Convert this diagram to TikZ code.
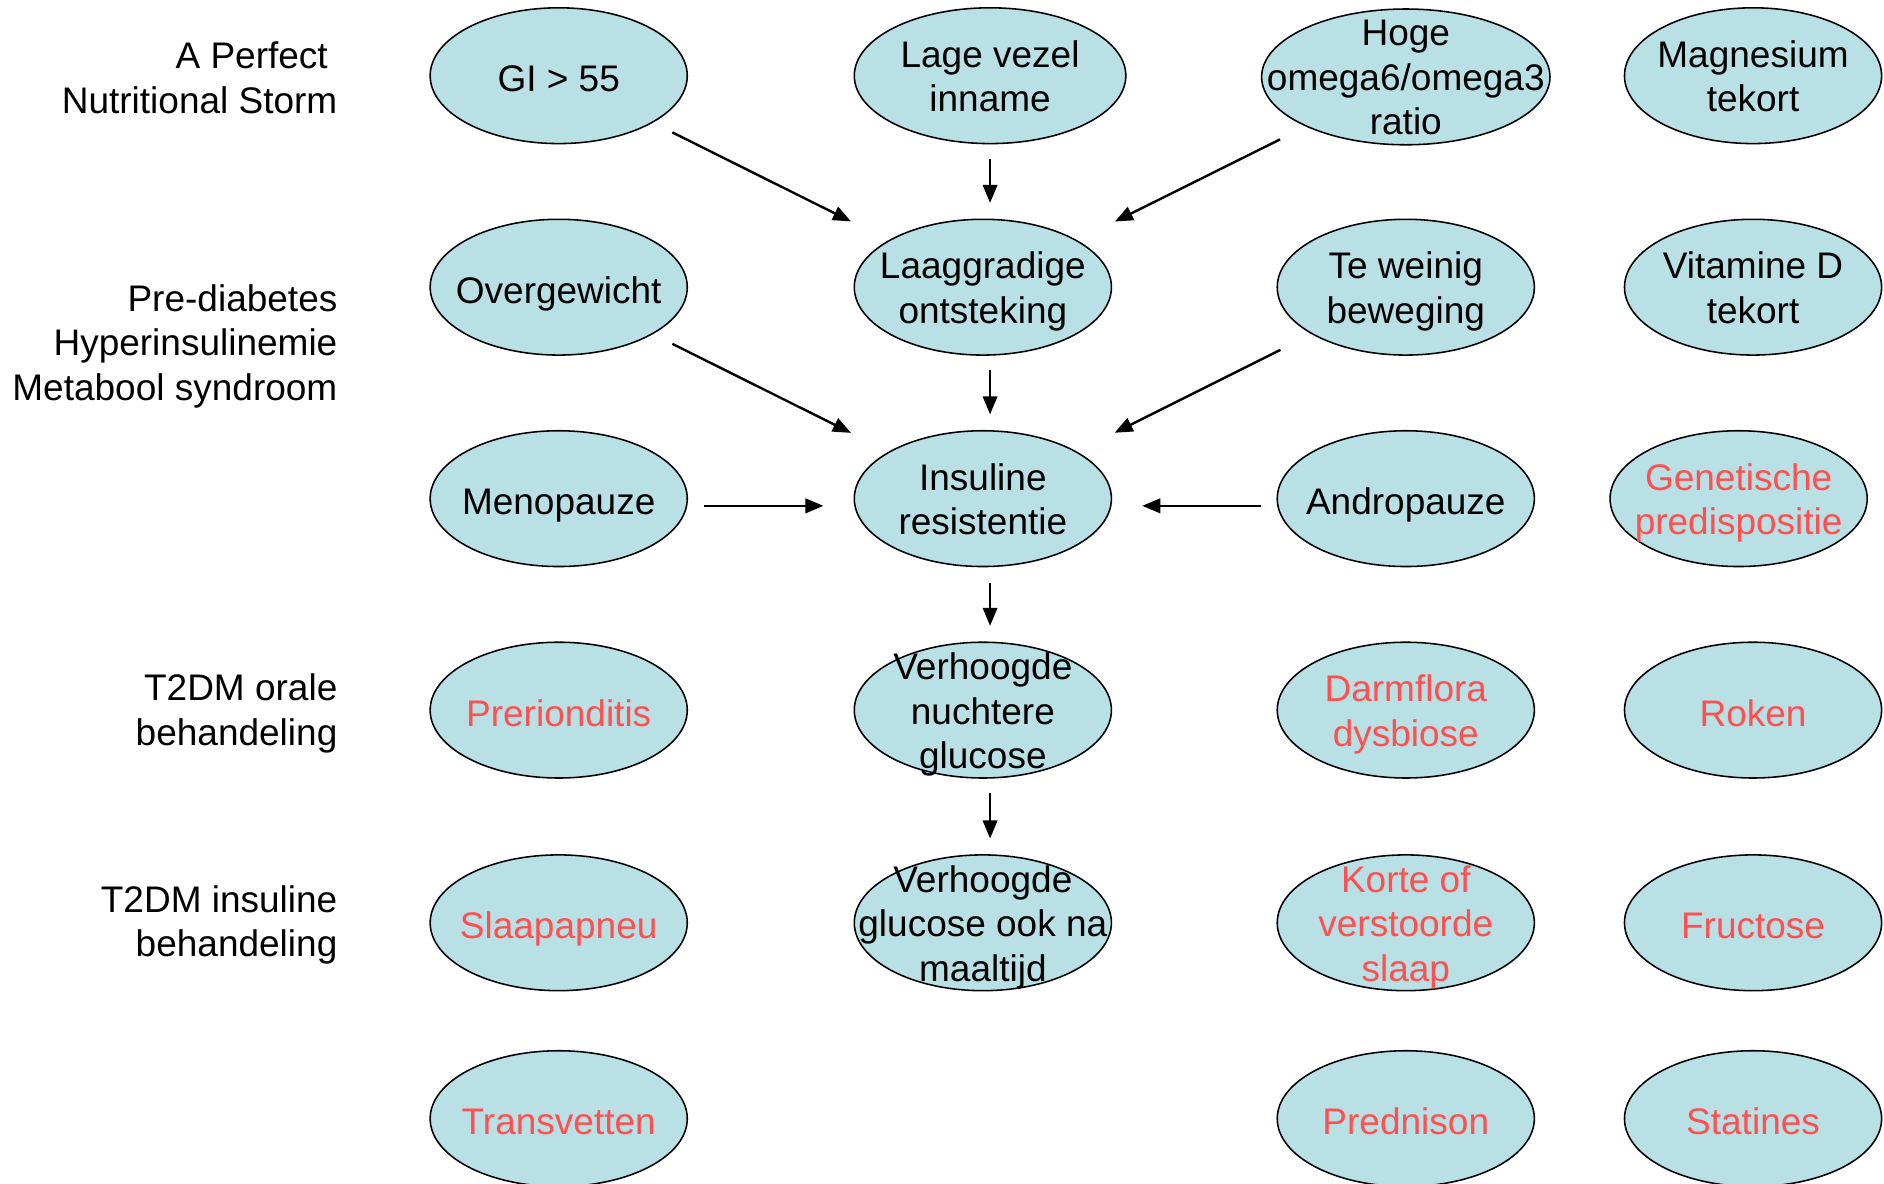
\documentclass[tikz,border=0pt]{standalone}
\usepackage{fontspec}
\setmainfont{Liberation Sans}
\usetikzlibrary{shapes.geometric,arrows.meta,calc}
\definecolor{efill}{RGB}{185,224,228}
\definecolor{ered}{RGB}{255,80,80}
\begin{document}
\begin{tikzpicture}[x=1pt,y=-1pt,
  ell/.style={ellipse,draw=black,line width=1.3pt,fill=efill,minimum width=214pt,minimum height=113pt,inner sep=0pt},
  txt/.style={align=center,inner sep=0pt,yshift=-6pt,font=\fontsize{30.8}{37}\selectfont,
    execute at begin node=\strut,execute at end node=\strut},
  redtxt/.style={txt,text=ered},
  lbl/.style={anchor=east,align=right,inner sep=0pt,yshift=-4.5pt,font=\fontsize{30.8}{37}\selectfont,
    execute at begin node=\strut,execute at end node=\strut},
  arr/.style={-{Triangle[length=15pt,width=12pt]},line width=2pt}]
\useasboundingbox (0,0) rectangle (1568,985.4);
% row 1
\node[ell,label={[txt]center:GI > 55}] (gi) at (465,63) {};
\node[ell,minimum width=226pt,label={[txt]center:Lage vezel\\inname}] (lage) at (824,63) {};
\node[ell,minimum width=240pt,label={[txt]center:Hoge\\omega6/omega3\\ratio}] (hoge) at (1170,64) {};
\node[ell,label={[txt]center:Magnesium\\tekort}] (magn) at (1459,63) {};
% row 2
\node[ell,label={[txt]center:Overgewicht}] (over) at (465,239) {};
\node[ell,label={[txt]center:Laaggradige\\ontsteking}] (lag) at (818,239) {};
\node[ell,label={[txt]center:Te weinig\\beweging}] (tew) at (1170,239) {};
\node[ell,label={[txt]center:Vitamine D\\tekort}] (vitd) at (1459,239) {};
% row 3
\node[ell,label={[txt]center:Menopauze}] (meno) at (465,415) {};
\node[ell,label={[txt]center:Insuline\\resistentie}] (ins) at (818,415) {};
\node[ell,label={[txt]center:Andropauze}] (andro) at (1170,415) {};
\node[ell,label={[redtxt]center:Genetische\\predispositie}] (gen) at (1447,415) {};
% row 4
\node[ell,label={[redtxt]center:Prerionditis}] (prer) at (465,591) {};
\node[ell,label={[txt]center:Verhoogde\\nuchtere\\glucose}] (vnuch) at (818,591) {};
\node[ell,label={[redtxt]center:Darmflora\\dysbiose}] (darm) at (1170,591) {};
\node[ell,label={[redtxt]center:Roken}] (roken) at (1459,591) {};
% row 5
\node[ell,label={[redtxt]center:Slaapapneu}] (slaap) at (465,768) {};
\node[ell,label={[txt]center:Verhoogde\\glucose ook na\\maaltijd}] (vglu) at (818,768) {};
\node[ell,label={[redtxt]center:Korte of\\verstoorde\\slaap}] (korte) at (1170,768) {};
\node[ell,label={[redtxt]center:Fructose}] (fruc) at (1459,768) {};
% row 6
\node[ell,label={[redtxt]center:Transvetten}] (trans) at (465,931) {};
\node[ell,label={[redtxt]center:Prednison}] (pred) at (1170,931) {};
\node[ell,label={[redtxt]center:Statines}] (stat) at (1459,931) {};
% left labels
\node[lbl] (l1) at (281,65.5) {A Perfect\kern8pt\\Nutritional Storm};
\node[lbl] (l2) at (281,286) {Pre-diabetes\\Hyperinsulinemie\\Metabool syndroom};
\node[lbl] (l3) at (281,591.5) {T2DM orale\\behandeling};
\node[lbl] (l4) at (281,767.5) {T2DM insuline\\behandeling};
% arrows
\draw[arr,shorten <=18pt,shorten >=35pt] (gi) -- (lag);
\draw[arr] ([yshift=-12pt]lage.south) -- ([yshift=13pt]lage.south |- lag.north);
\draw[arr,shorten <=24pt,shorten >=35pt] (hoge) -- (lag);
\draw[arr,shorten <=18pt,shorten >=35pt] (over) -- (ins);
\draw[arr] ([yshift=-12pt]lag.south -| lage.south) -- ([yshift=13pt]lage.south |- ins.north);
\draw[arr,shorten <=29pt,shorten >=35pt] (tew) -- (ins);
\draw[arr] ([xshift=13pt,yshift=-6pt]meno.east) -- ([xshift=-25pt,yshift=-6pt]ins.west);
\draw[arr] ([xshift=-13pt,yshift=-6pt]andro.west) -- ([xshift=25pt,yshift=-6pt]ins.east);
\draw[arr] ([yshift=-13pt]ins.south -| lage.south) -- ([yshift=13pt]lage.south |- vnuch.north);
\draw[arr] ([yshift=-12pt]vnuch.south -| lage.south) -- ([yshift=13pt]lage.south |- vglu.north);
\end{tikzpicture}
\end{document}
